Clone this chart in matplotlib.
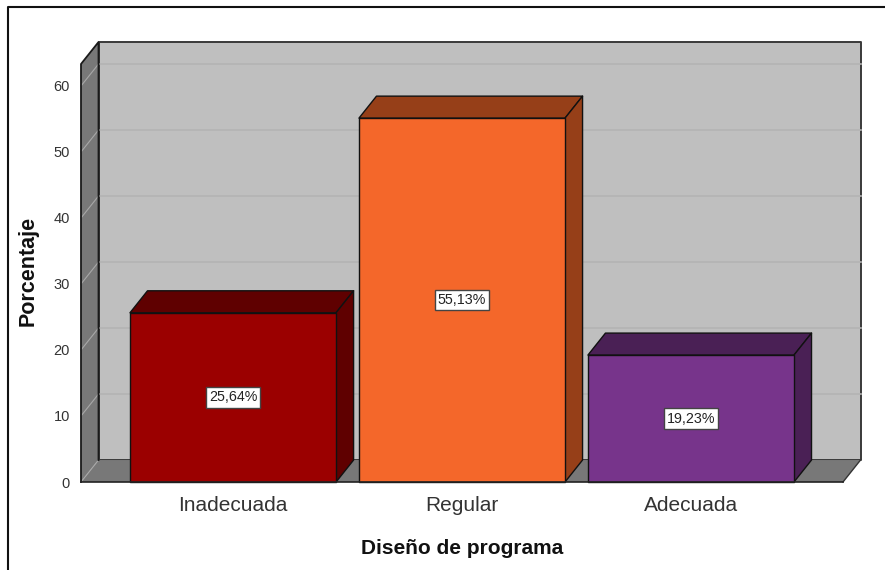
"""Porcentaje por diseno de programa, bar chart with the 3D box look."""

import matplotlib

matplotlib.use("Agg")
import matplotlib.pyplot as plt
from matplotlib.lines import Line2D
from matplotlib.patches import Polygon

CATEGORIES = ["Inadecuada", "Regular", "Adecuada"]
VALUES = [25.64, 55.13, 19.23]
VALUE_LABELS = ["25,64%", "55,13%", "19,23%"]
FRONT_COLORS = ["#9b0000", "#f4672a", "#77348b"]
SIDE_COLORS = ["#5f0000", "#963f18", "#4a2055"]
Y_TICKS = [0, 10, 20, 30, 40, 50, 60]

W, H = 885, 570
DEPTH_X = 0.0765
DEPTH_Y = 3.33
BAR_W = 0.9

plt.rcParams["font.family"] = ["Liberation Sans", "DejaVu Sans"]


def box(ax, pts, color, lw=1.0, edge="#111111", z=2):
    ax.add_patch(Polygon(pts, closed=True, facecolor=color, edgecolor=edge,
                         linewidth=lw, zorder=z, clip_on=False, joinstyle="round"))


fig = plt.figure(figsize=(W / 100, H / 100), dpi=100, facecolor="white")

# outer frame is cut off at the right and bottom of the picture
fig.add_artist(Line2D([8 / W, 8 / W, 1], [0, 1 - 7 / H, 1 - 7 / H],
                      transform=fig.transFigure, color="#111111", linewidth=1.5))

ax = fig.add_axes([81 / W, (H - 482) / H, (843 - 81) / W, (482 - 64) / H])
ax.set_xlim(-0.664, 2.664)
ax.set_ylim(0, 63.33)
ax.patch.set_visible(False)
for spine in ax.spines.values():
    spine.set_visible(False)

x0, x1 = ax.get_xlim()
y1 = ax.get_ylim()[1]
bx0, bx1 = x0 + DEPTH_X, x1 + DEPTH_X

# back wall, side wall, floor
box(ax, [(bx0, DEPTH_Y), (bx1, DEPTH_Y), (bx1, y1 + DEPTH_Y), (bx0, y1 + DEPTH_Y)],
    "#bfbfbf", lw=1.4, edge="#3a3a3a", z=1)
box(ax, [(x0, 0), (bx0, DEPTH_Y), (bx0, y1 + DEPTH_Y), (x0, y1)], "#787878", lw=0, edge="none", z=1.2)
box(ax, [(x0, 0), (x1, 0), (bx1, DEPTH_Y), (bx0, DEPTH_Y)], "#787878", lw=0, edge="none", z=1.2)
ax.plot([x0, x0, bx0, bx0], [0, y1, y1 + DEPTH_Y, DEPTH_Y], color="#1a1a1a", lw=1.3,
        zorder=1.4, clip_on=False)
ax.plot([x1, bx1], [0, DEPTH_Y], color="#333333", lw=1.0, zorder=1.4, clip_on=False)

for t in Y_TICKS[1:]:
    ax.plot([bx0, bx1], [t + DEPTH_Y, t + DEPTH_Y], color="#b3b3b3", lw=1.2, zorder=1.1,
            clip_on=False)
for t in Y_TICKS:
    ax.plot([x0, bx0], [t, t + DEPTH_Y], color="#a8a8a8", lw=0.8, zorder=1.3, clip_on=False)

for i, (val, label) in enumerate(zip(VALUES, VALUE_LABELS)):
    left, right = i - BAR_W / 2, i + BAR_W / 2
    box(ax, [(left, val), (right, val), (right + DEPTH_X, val + DEPTH_Y),
             (left + DEPTH_X, val + DEPTH_Y)], SIDE_COLORS[i])
    box(ax, [(right, 0), (right + DEPTH_X, DEPTH_Y), (right + DEPTH_X, val + DEPTH_Y),
             (right, val)], SIDE_COLORS[i])
    box(ax, [(left, 0), (right, 0), (right, val), (left, val)], FRONT_COLORS[i], z=3)
    ax.text(i, val / 2, label, ha="center", va="center", fontsize=10.3, color="#222222",
            zorder=4, bbox=dict(boxstyle="square,pad=0.22", facecolor="white",
                                edgecolor="#444444", linewidth=1))

ax.plot([x0, x1], [0, 0], color="#222222", lw=1.2, zorder=3.5, clip_on=False)

ax.set_xticks(range(len(CATEGORIES)), CATEGORIES)
ax.set_yticks(Y_TICKS)
ax.tick_params(axis="x", length=0, pad=10, labelsize=15, labelcolor="#333333")
ax.tick_params(axis="y", length=0, pad=8, labelsize=10.5, labelcolor="#333333")
ax.set_xlabel("Diseño de programa", fontsize=15, fontweight="bold", color="#111111", labelpad=17)
ax.set_ylabel("Porcentaje", fontsize=15.5, fontweight="bold", color="#111111", labelpad=11, y=0.505)

fig.savefig("out.png", dpi=100)
plt.close(fig)
